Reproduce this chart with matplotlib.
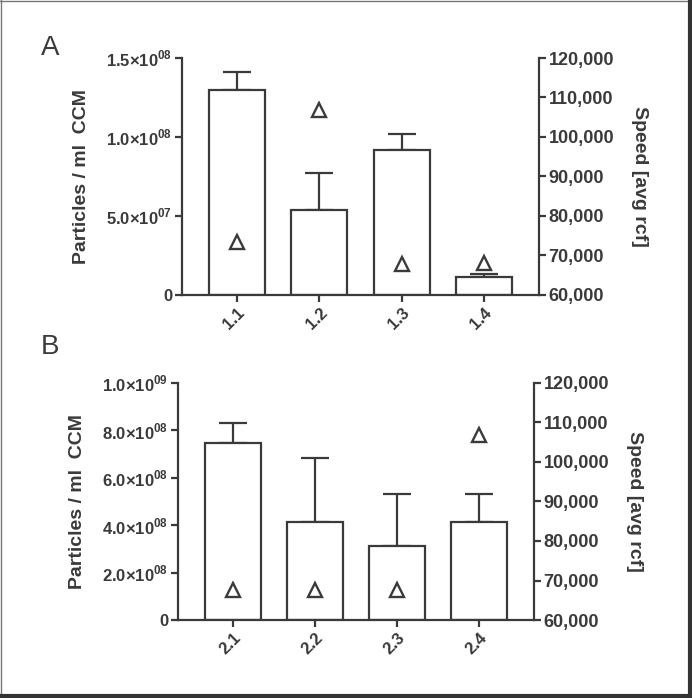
import matplotlib.pyplot as plt
import numpy as np
from matplotlib.lines import Line2D
from matplotlib.ticker import FuncFormatter

plt.rcParams['font.family'] = ['Liberation Sans', 'DejaVu Sans']
plt.rcParams['mathtext.fontset'] = 'custom'
plt.rcParams['mathtext.rm'] = 'Liberation Sans:bold'
plt.rcParams['mathtext.bf'] = 'Liberation Sans:bold'

# ---- data ----
groups_a = ['1.1', '1.2', '1.3', '1.4']
particles_a = [1.297e8, 5.38e7, 9.18e7, 1.14e7]
err_a = [0.114e8, 0.234e8, 0.101e8, 0.019e8]
speed_a = [73400, 106800, 67900, 68100]

groups_b = ['2.1', '2.2', '2.3', '2.4']
particles_b = [7.47e8, 4.13e8, 3.12e8, 4.13e8]
err_b = [0.84e8, 2.71e8, 2.20e8, 1.19e8]
speed_b = [67600, 67600, 67600, 106800]

ticks_a = [0, 5e7, 1e8, 1.5e8]
ticklabels_a = ['0', '5.0×10$^{07}$', '1.0×10$^{08}$', '1.5×10$^{08}$']
ticks_b = [0, 2e8, 4e8, 6e8, 8e8, 1e9]
ticklabels_b = ['0', '2.0×10$^{08}$', '4.0×10$^{08}$', '6.0×10$^{08}$',
                '8.0×10$^{08}$', '1.0×10$^{09}$']

C = '#3a3a3a'
LW = 1.6

fig = plt.figure(figsize=(6.92, 6.98), dpi=100)


def panel(rect, groups, vals, errs, speeds, ymax, ticks, ticklabels, letter, lpos):
    ax = fig.add_axes(rect)
    x = np.arange(len(groups))
    ax.bar(x, vals, 0.68, color='white', edgecolor=C, linewidth=LW, zorder=2)
    ax.errorbar(x, vals, yerr=[np.zeros(len(errs)), errs], fmt='none',
                ecolor=C, elinewidth=LW, capsize=10, capthick=LW, zorder=1)
    ax.set_xlim(-0.67, 3.67)
    ax.set_ylim(0, ymax)
    ax.set_yticks(ticks)
    ax.set_yticklabels(ticklabels, fontsize=12, fontweight='bold', color=C)
    ax.set_xticks(x)
    ax.set_xticklabels(groups, rotation=45, ha='right', rotation_mode='anchor',
                       fontsize=12, fontweight='bold', color=C)
    ax.spines['top'].set_visible(False)
    ax.spines['right'].set_visible(False)
    for s in ['left', 'bottom']:
        ax.spines[s].set_linewidth(LW)
        ax.spines[s].set_color(C)
    ax.tick_params(axis='both', direction='out', length=5, width=LW, color=C, pad=2)
    ax.set_ylabel('Particles / ml  CCM', fontsize=14, fontweight='bold', color=C,
                  labelpad=12)

    ax2 = ax.twinx()
    ax2.plot(x, speeds, linestyle='none', marker='^', markersize=10.5,
             markerfacecolor='none', markeredgecolor=C, markeredgewidth=1.7)
    ax2.set_ylim(60000, 120000)
    ax2.set_yticks(np.arange(60000, 120001, 10000))
    ax2.yaxis.set_major_formatter(FuncFormatter(lambda v, p: f'{int(v):,}'))
    for t in ax2.get_yticklabels():
        t.set_fontweight('bold')
    ax2.tick_params(axis='y', direction='out', length=5, width=LW, color=C,
                    labelsize=13, labelcolor=C, pad=2)
    for s in ['top', 'left', 'bottom']:
        ax2.spines[s].set_visible(False)
    ax2.spines['right'].set_linewidth(LW)
    ax2.spines['right'].set_color(C)
    ax2.set_ylabel('Speed [avg rcf]', fontsize=14, fontweight='bold', color=C,
                   rotation=270, labelpad=24)
    fig.text(lpos[0], lpos[1], letter, fontsize=20, color=C, ha='left', va='top')


panel([182 / 692, 1 - 295 / 698, 357 / 692, 237 / 698], groups_a, particles_a, err_a,
      speed_a, 1.5e8, ticks_a, ticklabels_a, 'A', (41 / 692, 1 - 35 / 698))
panel([178 / 692, 1 - 620 / 698, 356 / 692, 237 / 698], groups_b, particles_b, err_b,
      speed_b, 1e9, ticks_b, ticklabels_b, 'B', (41 / 692, 1 - 334 / 698))

# frame around the whole figure
fig.add_artist(Line2D([0.001, 0.001], [0, 1], transform=fig.transFigure, color='#777777', lw=1))
fig.add_artist(Line2D([0, 1], [0.999, 0.999], transform=fig.transFigure, color='#777777', lw=1))
fig.add_artist(Line2D([0.997, 0.997], [0, 1], transform=fig.transFigure, color='#333333', lw=3))
fig.add_artist(Line2D([0, 1], [0.003, 0.003], transform=fig.transFigure, color='#333333', lw=3))

fig.savefig('out.png', dpi=100)
